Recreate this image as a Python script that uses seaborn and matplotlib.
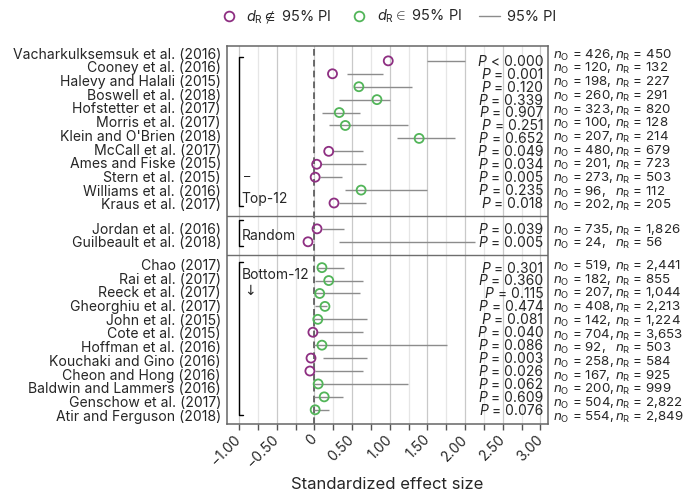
import numpy as np
import pandas as pd
import matplotlib
matplotlib.use("Agg")
import matplotlib.pyplot as plt
import matplotlib.transforms as mtransforms
from matplotlib.lines import Line2D
import seaborn as sns

# ---- data ----
studies = [
    "Vacharkulksemsuk et al. (2016)", "Cooney et al. (2016)", "Halevy and Halali (2015)",
    "Boswell et al. (2018)", "Hofstetter et al. (2017)", "Morris et al. (2017)",
    "Klein and O'Brien (2018)", "McCall et al. (2017)", "Ames and Fiske (2015)",
    "Stern et al. (2015)", "Williams et al. (2016)", "Kraus et al. (2017)",
    "Jordan et al. (2016)", "Guilbeault et al. (2018)",
    "Chao (2017)", "Rai et al. (2017)", "Reeck et al. (2017)", "Gheorghiu et al. (2017)",
    "John et al. (2015)", "Cote et al. (2015)", "Hoffman et al. (2016)",
    "Kouchaki and Gino (2016)", "Cheon and Hong (2016)", "Baldwin and Lammers (2016)",
    "Genschow et al. (2017)", "Atir and Ferguson (2018)",
]
group = ["Top-12"] * 12 + ["Random"] * 2 + ["Bottom-12"] * 12
d_r = [0.98, 0.24, 0.59, 0.83, 0.33, 0.41, 1.39, 0.19, 0.03, 0.01, 0.62, 0.26,
       0.035, -0.085,
       0.10, 0.19, 0.07, 0.14, 0.045, -0.02, 0.10, -0.045, -0.06, 0.05, 0.13, 0.01]
pi_low = [1.49, 0.43, 0.53, 0.33, 0.10, 0.20, 1.09, 0.24, 0.08, 0.07, 0.41, 0.32,
          0.10, 0.32,
          0.04, 0.01, 0.01, 0.01, 0.00, 0.02, 0.00, 0.11, 0.01, 0.00, 0.00, 0.00]
pi_high = [2.00, 0.91, 1.29, 1.00, 0.61, 1.24, 1.86, 0.65, 0.68, 0.37, 1.50, 0.69,
           0.39, 2.13,
           0.39, 0.65, 0.61, 0.17, 0.70, 0.64, 1.76, 0.70, 0.65, 1.24, 0.38, 0.19]
p_text = ["< 0.000", "= 0.001", "= 0.120", "= 0.339", "= 0.907", "= 0.251",
          "= 0.652", "= 0.049", "= 0.034", "= 0.005", "= 0.235", "= 0.018",
          "= 0.039", "= 0.005",
          "= 0.301", "= 0.360", "= 0.115", "= 0.474", "= 0.081", "= 0.040",
          "= 0.086", "= 0.003", "= 0.026", "= 0.062", "= 0.609", "= 0.076"]
n_orig = [426, 120, 198, 260, 323, 100, 207, 480, 201, 273, 96, 202,
          735, 24,
          519, 182, 207, 408, 142, 704, 92, 258, 167, 200, 504, 554]
n_rep = [450, 132, 227, 291, 820, 128, 214, 679, 723, 503, 112, 205,
         1826, 56,
         2441, 855, 1044, 2213, 1224, 3653, 503, 584, 925, 999, 2822, 2849]
tick_vals = [-1.0, -0.5, 0, 0.5, 1.0, 1.5, 2.0, 2.5, 3.0]
tick_text = ["\u22121.00", "\u22120.50", "0", "0.50", "1.00", "1.50", "2.00", "2.50", "3.00"]

df = pd.DataFrame({"study": studies, "group": group, "d": d_r,
                   "lo": pi_low, "hi": pi_high, "p": p_text,
                   "nO": n_orig, "nR": n_rep})
# one blank row between the groups
df["row"] = list(range(12)) + [13, 14] + list(range(16, 28))
df["inside"] = (df["d"] >= df["lo"]) & (df["d"] <= df["hi"])
# the label / n columns are spaced a bit wider than the points
df["label_y"] = df["row"].astype(float)
top = df["group"] == "Top-12"
bot = df["group"] == "Bottom-12"
df.loc[top, "label_y"] = df.loc[top, "row"] * 1.06 - 0.55
df.loc[bot, "label_y"] = (df.loc[bot, "row"] - 16) * 1.06 + 15.8

PURPLE = "#8e2f82"
GREEN = "#52b559"
GREY = "#8c8c8c"
BASE = 0.38  # baseline offset (rows) so text sits centred on a row

sns.set_style("white")
plt.rcParams["font.family"] = ["Inter", "DejaVu Sans"]
plt.rcParams["mathtext.fontset"] = "custom"
plt.rcParams["mathtext.rm"] = "Inter"
plt.rcParams["mathtext.it"] = "Inter:italic"

fig = plt.figure(figsize=(6.87, 5.01), dpi=100)
ax = fig.add_axes([227 / 687, 1 - 424 / 501, 321 / 687, 378 / 501])

# grid every 0.25
for v in np.arange(-1.0, 3.01, 0.25):
    major = abs(v * 2 - round(v * 2)) < 1e-9
    ax.axvline(v, color="#c9c9c9" if major else "#e6e6e6", lw=0.9, zorder=0)
ax.axvline(0, color="#555555", lw=1.2, ls=(0, (4, 2.5)), zorder=1)
ax.axhline(12, color="#6e6e6e", lw=1.0, zorder=1)
ax.axhline(15, color="#6e6e6e", lw=1.0, zorder=1)

ax.hlines(df["row"], df["lo"], df["hi"], color=GREY, lw=1.0, zorder=2)
sns.scatterplot(data=df[~df["inside"]], x="d", y="row", ax=ax, marker="o", s=42,
                facecolor="none", edgecolor=PURPLE, linewidth=1.3, zorder=3)
sns.scatterplot(data=df[df["inside"]], x="d", y="row", ax=ax, marker="o", s=42,
                facecolor="none", edgecolor=GREEN, linewidth=1.3, zorder=3)

for _, r in df.iterrows():
    # plain text for the number, italic P placed just left of it
    t = ax.text(3.04, r["row"] + BASE, r["p"], ha="right", va="baseline", fontsize=10)
    ax.annotate("P", xy=(0, 0), xycoords=t, xytext=(-3, 0), textcoords="offset points",
                ha="right", va="bottom", fontsize=10, fontstyle="italic")
    ax.text(-1.24, r["label_y"] + BASE, r["study"], ha="right", va="baseline",
            fontsize=10.1, clip_on=False)
    ax.text(3.17, r["label_y"] + BASE, rf"$n_\mathrm{{O}}$ = {r['nO']:,},", ha="left",
            va="baseline", fontsize=9.6, clip_on=False)
    ax.text(3.99, r["label_y"] + BASE, rf"$n_\mathrm{{R}}$ = {r['nR']:,}", ha="left",
            va="baseline", fontsize=9.6, clip_on=False)

# group brackets
bk = dict(color="black", lw=1.0, zorder=4)
ax.plot([-0.95, -1.0, -1.0, -0.95], [-0.3, -0.3, 11.2, 11.2], **bk)
ax.plot([-0.95, -1.0, -1.0, -0.95], [12.35, 12.35, 14.3, 14.3], **bk)
ax.plot([-0.95, -1.0, -1.0, -0.95], [15.6, 15.6, 27.4, 27.4], **bk)
ax.text(-0.97, 10.6 + BASE, "Top-12", ha="left", va="baseline", fontsize=10)
ax.text(-0.93, 9.0, "\u2013", ha="left", va="center", fontsize=9)
ax.text(-0.96, 13.5 + BASE, "Random", ha="left", va="baseline", fontsize=10)
ax.text(-0.96, 16.5 + BASE, "Bottom-12", ha="left", va="baseline", fontsize=10)
ax.text(-0.93, 17.8, "\u2193", ha="left", va="center", fontsize=10,
        family=["DejaVu Sans"])

ax.set_xlim(-1.16, 3.10)
ax.set_ylim(28.1, -1.15)
ax.set_yticks([])
ax.set_xticks(tick_vals)
ax.set_xticklabels(tick_text, rotation=45, ha="right", fontsize=10)
ax.set_xticks(np.arange(-1.0, 3.01, 0.25), minor=True)
ax.tick_params(axis="x", which="both", direction="out", length=4, width=1.0,
               color="#555555", bottom=True, pad=2)
shift = mtransforms.ScaledTranslation(5 / 100, 0, fig.dpi_scale_trans)
for lab in ax.get_xticklabels():
    lab.set_transform(lab.get_transform() + shift)
ax.set_xlabel("Standardized effect size", fontsize=12, labelpad=5)
ax.set_ylabel("")
for sp in ax.spines.values():
    sp.set_color("#666666")
    sp.set_linewidth(1.1)

handles = [
    Line2D([], [], marker="o", ls="none", markersize=7, markerfacecolor="none",
           markeredgecolor=PURPLE, markeredgewidth=1.3),
    Line2D([], [], marker="o", ls="none", markersize=7, markerfacecolor="none",
           markeredgecolor=GREEN, markeredgewidth=1.3),
    Line2D([], [], color=GREY, lw=1.0),
]
labels = [r"$d_\mathrm{R} \notin$ 95% PI", r"$d_\mathrm{R} \in$ 95% PI", "95% PI"]
ax.legend(handles, labels, loc="center", bbox_to_anchor=(0.5, 1.077), ncol=3,
          frameon=False, fontsize=10.5, handlelength=1.4, handletextpad=0.5,
          columnspacing=1.2)

fig.savefig("out.png", dpi=100)
